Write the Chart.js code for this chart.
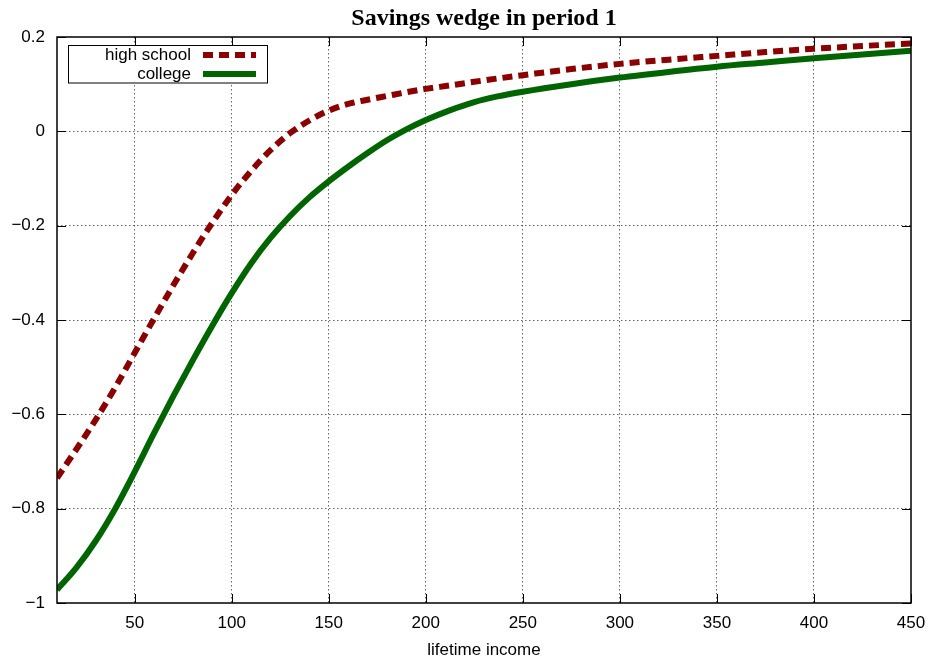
<!DOCTYPE html>
<html>
<head>
<meta charset="utf-8">
<script src="https://cdn.jsdelivr.net/npm/chart.js@4"></script>
<style>
  html, body { margin: 0; padding: 0; background: #fff; }
  #wrap { width: 929px; height: 657px; }
</style>
</head>
<body>
<div id="wrap"><canvas id="myChart"></canvas></div>
<script>
// data
var income = [10, 20, 30, 40, 50, 60, 70, 80, 90, 100, 110, 120, 130, 140, 150, 160, 170, 180, 190, 200, 212, 225, 237, 250, 275, 300, 325, 350, 375, 400, 425, 450];
var highSchool = [-0.735, -0.674, -0.611, -0.543, -0.470, -0.397, -0.326, -0.258, -0.194, -0.135, -0.084, -0.040, -0.004, 0.023, 0.044, 0.058, 0.067, 0.075, 0.083, 0.090, 0.097, 0.105, 0.112, 0.119, 0.132, 0.143, 0.152, 0.160, 0.168, 0.175, 0.181, 0.186];
var college = [-0.972, -0.925, -0.868, -0.800, -0.722, -0.640, -0.561, -0.485, -0.412, -0.343, -0.280, -0.226, -0.180, -0.140, -0.106, -0.075, -0.046, -0.019, 0.004, 0.024, 0.044, 0.062, 0.074, 0.084, 0.100, 0.114, 0.126, 0.137, 0.146, 0.155, 0.163, 0.171];
var seriesNames = ['high school', 'college'];

var xTicks = [50, 100, 150, 200, 250, 300, 350, 400, 450];
var yTicks = [-1, -0.8, -0.6, -0.4, -0.2, 0, 0.2];
var yTickLabels = ['\u22121', '\u22120.8', '\u22120.6', '\u22120.4', '\u22120.2', '0', '0.2'];

var sans = 'Liberation Sans, Arial, sans-serif';
var gridCol = 'rgba(0,0,0,0.6)';

function points(ys) {
  return income.map(function (x, i) { return {x: x, y: ys[i]}; });
}

/* gnuplot-like frame, inward ticks and key box */
var framePlugin = {
  id: 'frame',
  afterDatasetsDraw: function (chart) {
    var ctx = chart.ctx, a = chart.chartArea;
    var xs = chart.scales.x, ys = chart.scales.y;
    ctx.save();
    ctx.strokeStyle = '#000';
    ctx.lineWidth = 1;
    ctx.setLineDash([]);
    ctx.beginPath();
    xTicks.forEach(function (v) {
      var px = Math.round(xs.getPixelForValue(v)) + 0.5;
      ctx.moveTo(px, a.bottom); ctx.lineTo(px, a.bottom - 9);
      ctx.moveTo(px, a.top); ctx.lineTo(px, a.top + 9);
    });
    yTicks.forEach(function (v) {
      var py = Math.round(ys.getPixelForValue(v)) + 0.5;
      ctx.moveTo(a.left, py); ctx.lineTo(a.left + 9, py);
      ctx.moveTo(a.right, py); ctx.lineTo(a.right - 9, py);
    });
    ctx.stroke();
    ctx.lineWidth = 1.5;
    ctx.strokeRect(a.left, a.top, a.right - a.left, a.bottom - a.top);

    // key
    ctx.fillStyle = '#fff';
    ctx.fillRect(68.5, 45.5, 199, 37.5);
    ctx.lineWidth = 1;
    ctx.strokeStyle = '#000';
    ctx.strokeRect(68.5, 45.5, 199, 37.5);
    ctx.font = '17px ' + sans;
    ctx.textAlign = 'right';
    ctx.textBaseline = 'middle';
    ctx.fillStyle = '#000';
    chart.data.datasets.forEach(function (ds, i) {
      var yy = 55 + i * 19;
      ctx.fillText(ds.label, 191, yy);
      ctx.strokeStyle = ds.borderColor;
      ctx.lineWidth = ds.borderWidth;
      ctx.setLineDash(ds.borderDash || []);
      ctx.beginPath();
      ctx.moveTo(203, yy);
      ctx.lineTo(256, yy);
      ctx.stroke();
    });
    ctx.restore();
  }
};

var ctx = document.getElementById('myChart').getContext('2d');
var chart = new Chart(ctx, {
  type: 'line',
  data: {
    datasets: [{
      label: seriesNames[0],
      data: points(highSchool),
      borderColor: 'rgb(139,0,0)',
      borderWidth: 6,
      borderDash: [10, 6],
      borderCapStyle: 'butt',
      pointRadius: 0,
      cubicInterpolationMode: 'monotone',
      fill: false,
      clip: 0
    }, {
      label: seriesNames[1],
      data: points(college),
      borderColor: 'rgb(0,100,0)',
      borderWidth: 6,
      pointRadius: 0,
      cubicInterpolationMode: 'monotone',
      fill: false,
      clip: 0
    }]
  },
  options: {
    responsive: true,
    maintainAspectRatio: false,
    animation: false,
    events: [],
    layout: {padding: {left: 0, right: 18, top: 0, bottom: 0}},
    plugins: {
      legend: {display: false},
      tooltip: {enabled: false},
      title: {
        display: true,
        text: 'Savings wedge in period 1',
        fullSize: false,
        color: '#000',
        font: {family: 'Liberation Serif, Times New Roman, serif', size: 24, weight: 'bold', lineHeight: 1.2},
        padding: {top: 4, bottom: 4.2}
      }
    },
    scales: {
      x: {
        type: 'linear',
        min: 10,
        max: 450,
        afterBuildTicks: function (s) { s.ticks = xTicks.map(function (v) { return {value: v}; }); },
        afterFit: function (s) { s.height = 54; s.paddingLeft = 0; s.paddingRight = 0; },
        ticks: {color: '#000', font: {family: sans, size: 17}, padding: 10, maxRotation: 0, autoSkip: false},
        grid: {
          drawTicks: false,
          lineWidth: 1,
          color: function (c) { return c.tick && c.tick.value === 450 ? 'rgba(0,0,0,0)' : gridCol; }
        },
        border: {display: false, dash: [1.5, 2.5]},
        title: {display: true, text: 'lifetime income', color: '#000', font: {family: sans, size: 17}, padding: {top: 0, bottom: -4}}
      },
      y: {
        type: 'linear',
        min: -1,
        max: 0.2,
        afterBuildTicks: function (s) { s.ticks = yTicks.map(function (v) { return {value: v}; }); },
        afterFit: function (s) { s.width = 57; },
        ticks: {
          color: '#000',
          font: {family: sans, size: 17},
          padding: 12,
          callback: function (v, i) { return yTickLabels[i]; }
        },
        grid: {
          drawTicks: false,
          lineWidth: 1,
          color: function (c) { return c.tick && (c.tick.value === -1 || c.tick.value === 0.2) ? 'rgba(0,0,0,0)' : gridCol; }
        },
        border: {display: false, dash: [1.5, 2.5]}
      }
    }
  },
  plugins: [framePlugin]
});
</script>
</body>
</html>
